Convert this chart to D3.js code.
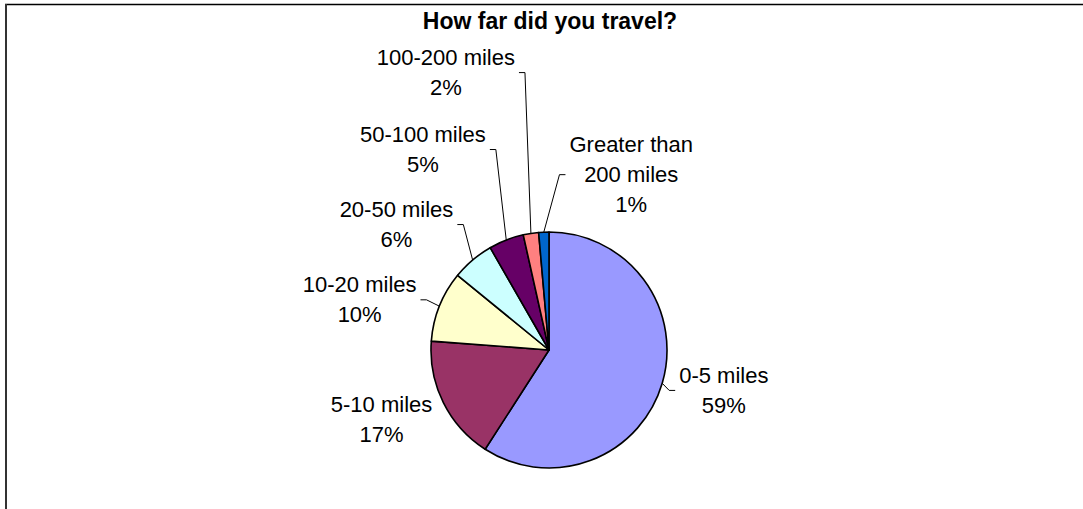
<!DOCTYPE html>
<html>
<head>
<meta charset="utf-8">
<script src="https://cdn.jsdelivr.net/npm/d3@7/dist/d3.min.js"></script>
<style>
  html, body { margin: 0; padding: 0; background: #fff; }
  svg { display: block; }
  text { font-family: "Liberation Sans", Arial, sans-serif; fill: #000; }
</style>
</head>
<body>
<svg id="chart" width="1083" height="509"></svg>
<script>
// ---- data ----
const title = "How far did you travel?";
const categories = ["0-5 miles", "5-10 miles", "10-20 miles", "20-50 miles", "50-100 miles", "100-200 miles", "Greater than 200 miles"];
const values = [59.1, 17.1, 9.7, 5.8, 4.8, 2.1, 1.4];
const colors = ["#9999FF", "#993366", "#FFFFCC", "#CCFFFF", "#660066", "#FF8080", "#0066CC"];
// which slices get a leader line
const hasLeader = [true, false, true, true, true, true, true];

// ---- layout ----
const W = 1083, H = 509;
const cx = 549, cy = 350, R = 118;
const labelR = 177;
const labelNudge = [[5, -17], [-9, -17], [-25, 8], [-38, 2], [-62, -43], [-76, -110], [90, -21]];
const lineH = 30;
const labelFont = 22;

const svg = d3.select("#chart");

// frame
svg.append("line").attr("x1", 5).attr("y1", 4.5).attr("x2", W).attr("y2", 4.5)
  .attr("stroke", "#000").attr("stroke-width", 1.3);
svg.append("line").attr("x1", 6).attr("y1", 4).attr("x2", 6).attr("y2", H)
  .attr("stroke", "#333").attr("stroke-width", 2);

// title
svg.append("text").attr("x", 550).attr("y", 29).attr("text-anchor", "middle")
  .style("font-size", "23px").style("font-weight", "bold").text(title);

const total = d3.sum(values);
const fmt = d3.format(".0%");
const pie = d3.pie().sort(null).value(d => d.v);
const data = categories.map((c, i) => ({ c, v: values[i], color: colors[i], i }));
const arcs = pie(data);

const arc = d3.arc().innerRadius(0).outerRadius(R);
const edgeArc = d3.arc().innerRadius(R).outerRadius(R);
const labelArc = d3.arc().innerRadius(labelR).outerRadius(labelR);

const g = svg.append("g").attr("transform", `translate(${cx},${cy})`);

g.selectAll("path.slice").data(arcs).enter().append("path")
  .attr("class", "slice")
  .attr("d", arc)
  .attr("fill", d => d.data.color)
  .attr("stroke", "#000").attr("stroke-width", 1.6).attr("stroke-linejoin", "round");

function wrap(s, maxChars) {
  const words = s.split(" ");
  const lines = [];
  let cur = "";
  words.forEach(w => {
    const t = cur ? cur + " " + w : w;
    if (t.length > maxChars && cur) { lines.push(cur); cur = w; } else cur = t;
  });
  if (cur) lines.push(cur);
  return lines;
}

const lg = g.append("g");
arcs.forEach((d, i) => {
  const [lx, ly] = labelArc.centroid(d);
  const x = lx + labelNudge[i][0], y = ly + labelNudge[i][1];
  const lines = wrap(d.data.c, 13).concat([fmt(d.data.v / total)]);
  const t = lg.append("text").attr("text-anchor", "middle").style("font-size", labelFont + "px");
  lines.forEach((s, k) => {
    t.append("tspan").attr("x", x).attr("y", y + k * lineH).text(s);
  });
  if (hasLeader[i]) {
    const bb = t.node().getBBox();
    const [ex, ey] = edgeArc.centroid(d);
    const midY = bb.y + bb.height / 2;
    const rightSide = (bb.x + bb.width / 2) > ex;
    let x1, x2;
    if (rightSide) { x1 = bb.x - 4; x2 = x1 - 6; }
    else { x1 = bb.x + bb.width + 4; x2 = x1 + 6; }
    lg.append("path")
      .attr("d", d3.line()([[x1, midY], [x2, midY], [ex, ey]]))
      .attr("fill", "none").attr("stroke", "#000").attr("stroke-width", 1);
  }
});
</script>
</body>
</html>
